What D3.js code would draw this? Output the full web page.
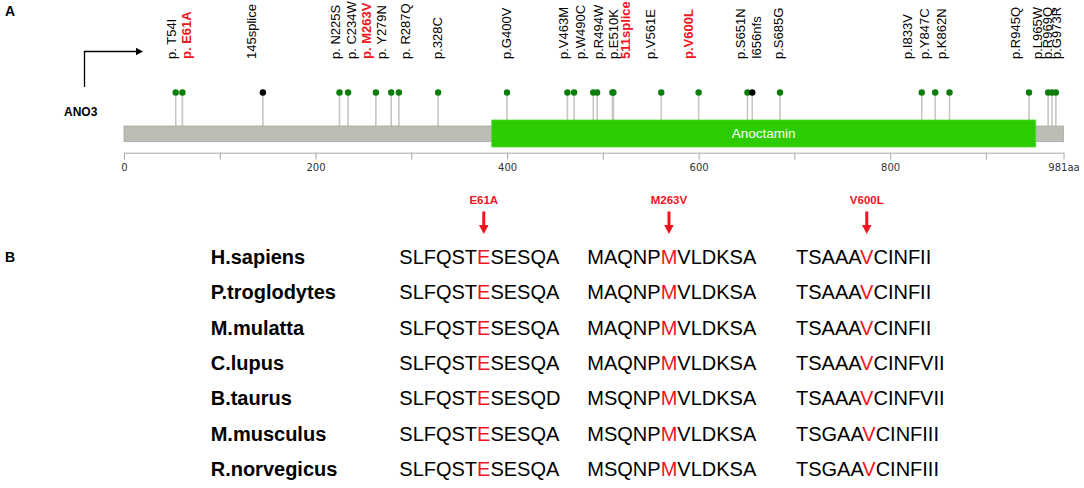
<!DOCTYPE html>
<html>
<head>
<meta charset="utf-8">
<script src="https://cdn.jsdelivr.net/npm/d3@7/dist/d3.min.js"></script>
<style>
  body { margin: 0; background: #fff; }
  svg { font-family: Arial, "Liberation Sans", sans-serif; }
</style>
</head>
<body>
<svg id="fig" width="1084" height="488"></svg>
<script>
// ---- panel A data ----
var proteinLength = 981;
var domainName = "Anoctamin";
var domainStart = 384, domainEnd = 952;

var mutPos = [54, 61, 145, 225, 234, 263, 279, 287, 328, 400, 463, 470, 490, 494, 510, 511,
              561, 600, 651, 656, 685, 833, 847, 862, 945, 965, 969, 973];
var mutLabel = ["p. T54I", "p. E61A", "145splice", "p. N225S", "p. C234W", "p. M263V", "p. Y279N",
                "p. R287Q", "p.328C", "p.G400V", "p.V463M", "", "p.W490C", "p.R494W", "p.E510K",
                "511splice", "p.V561E", "p.V600L", "p.S651N", "I656nfs", "p.S685G", "p.I833V",
                "p.Y847C", "p.K862N", "p.R945Q", "p.L965W", "p.R969Q", "p.G973R"];
var truncating = ["145splice", "I656nfs"];
var highlighted = ["p. E61A", "p. M263V", "511splice", "p.V600L"];
var axisTicks = [0, 100, 200, 300, 400, 500, 600, 700, 800, 900, 981];
var axisLabelled = [0, 200, 400, 600, 800, 981];

// ---- panel B data ----
var species = ["H.sapiens", "P.troglodytes", "M.mulatta", "C.lupus", "B.taurus", "M.musculus", "R.norvegicus"];
var seqE61 = ["SLFQSTESESQA", "SLFQSTESESQA", "SLFQSTESESQA", "SLFQSTESESQA", "SLFQSTESESQD", "SLFQSTESESQA", "SLFQSTESESQA"];
var seqM263 = ["MAQNPMVLDKSA", "MAQNPMVLDKSA", "MAQNPMVLDKSA", "MAQNPMVLDKSA", "MSQNPMVLDKSA", "MSQNPMVLDKSA", "MSQNPMVLDKSA"];
var seqV600 = ["TSAAAVCINFII", "TSAAAVCINFII", "TSAAAVCINFII", "TSAAAVCINFVII", "TSAAAVCINFVII", "TSGAAVCINFIII", "TSGAAVCINFIII"];
var siteNames = ["E61A", "M263V", "V600L"];
var siteIndex = [6, 5, 5];

var RED = "#f0141e";
var svg = d3.select("#fig");

// ---------------- Panel A ----------------
var x = d3.scaleLinear().domain([0, proteinLength]).range([124, 1063.5]);

// hand nudges (px) so the rotated labels sit as in the figure
var labelNudge = [-4, 5, -11, -3, 3.5, -9, -9, 7.5, 0, 0, -3, 0, -12, 1.5, 2, 13,
                  -10.5, -9.5, -6.5, 4.5, -1, -14, -10, -8, -13, -10.5, -4, 1.5];

svg.append("text").attr("x", 5).attr("y", 16)
  .attr("font-size", 14).attr("font-weight", "bold").text("A");

// ANO3 start arrow
svg.append("path").attr("d", "M84.5,87V51.5H137")
  .attr("fill", "none").attr("stroke", "#000").attr("stroke-width", 1.3);
svg.append("path").attr("d", "M143,51.5L136,47.8L136,55.2Z").attr("fill", "#000");
svg.append("text").attr("x", 64).attr("y", 116)
  .attr("font-size", 12).attr("font-weight", "bold").text("ANO3");

var headY = 92.5, barTop = 126, barBottom = 141.7, domTop = 120, domBottom = 147;

var muts = mutPos.map(function (p, i) { return {pos: p, label: mutLabel[i], nudge: labelNudge[i]}; });

// stems
svg.append("g").selectAll("line").data(muts).join("line")
  .attr("x1", function (d) { return x(d.pos); })
  .attr("x2", function (d) { return x(d.pos); })
  .attr("y1", headY)
  .attr("y2", function (d) { return (d.pos >= domainStart && d.pos <= domainEnd) ? domTop : barTop; })
  .attr("stroke", "#c6c6c2").attr("stroke-width", 1.6);

// protein backbone and domain
svg.append("rect")
  .attr("x", x(0)).attr("y", barTop)
  .attr("width", x(proteinLength) - x(0)).attr("height", barBottom - barTop)
  .attr("fill", "#bcbdb5").attr("stroke", "#a9aaa3").attr("stroke-width", 0.8);
svg.append("rect")
  .attr("x", x(domainStart)).attr("y", domTop)
  .attr("width", x(domainEnd) - x(domainStart)).attr("height", domBottom - domTop)
  .attr("fill", "#2dcc00").attr("stroke", "#4fd62a").attr("stroke-width", 0.8);
svg.append("text")
  .attr("x", (x(domainStart) + x(domainEnd)) / 2).attr("y", 138)
  .attr("text-anchor", "middle").attr("fill", "#fff").attr("font-size", 13.5)
  .text(domainName);

// heads
svg.append("g").selectAll("circle").data(muts).join("circle")
  .attr("cx", function (d) { return x(d.pos); })
  .attr("cy", headY).attr("r", 3.2)
  .attr("fill", function (d) { return truncating.indexOf(d.label) >= 0 ? "#000" : "#0a7d0a"; });

// rotated mutation labels
svg.append("g").selectAll("text").data(muts.filter(function (d) { return d.label; })).join("text")
  .attr("transform", function (d) { return "translate(" + (x(d.pos) + d.nudge + 4) + ",59) rotate(-90)"; })
  .attr("font-size", 13)
  .attr("font-weight", function (d) { return highlighted.indexOf(d.label) >= 0 ? "bold" : "normal"; })
  .attr("fill", function (d) { return highlighted.indexOf(d.label) >= 0 ? RED : "#000"; })
  .text(function (d) { return d.label; });

// position axis
var axis = d3.axisBottom(x)
  .tickValues(axisTicks)
  .tickSize(7).tickSizeOuter(0).tickPadding(4)
  .tickFormat(function (d) {
    if (axisLabelled.indexOf(d) < 0) return "";
    return d === proteinLength ? d + "aa" : d;
  });
var ag = svg.append("g").attr("transform", "translate(0,152.7)").call(axis);
ag.select(".domain").attr("stroke", "#aaa");
ag.selectAll(".tick line").attr("stroke", "#aaa");
ag.selectAll(".tick text").attr("fill", "#333").attr("font-size", 10)
  .attr("font-family", "'DejaVu Sans', sans-serif");

// ---------------- Panel B ----------------
svg.append("text").attr("x", 5).attr("y", 261.7)
  .attr("font-size", 14).attr("font-weight", "bold").text("B");

var y = d3.scalePoint().domain(species).range([264, 476]);
var colX = [399.3, 587.3, 796];
var columns = [seqE61, seqM263, seqV600];

svg.append("g").selectAll("text").data(species).join("text")
  .attr("x", 210.7).attr("y", function (d) { return y(d); })
  .attr("font-size", 20).attr("font-weight", "bold")
  .text(function (d) { return d; });

columns.forEach(function (col, c) {
  var rows = svg.append("g").selectAll("text").data(col).join("text")
    .attr("x", colX[c]).attr("y", function (d, i) { return y(species[i]); })
    .attr("font-size", 20);
  rows.each(function (s) {
    var t = d3.select(this), k = siteIndex[c];
    t.append("tspan").text(s.slice(0, k));
    t.append("tspan").attr("fill", RED).text(s.charAt(k));
    t.append("tspan").text(s.slice(k + 1));
  });

  // arrow above the conserved residue of the first row
  var ext = rows.node().getExtentOfChar(siteIndex[c]);
  var cx = ext.x + ext.width / 2;
  svg.append("text").attr("x", cx).attr("y", 204)
    .attr("text-anchor", "middle").attr("font-size", 11.5).attr("font-weight", "bold")
    .attr("fill", RED).text(siteNames[c]);
  svg.append("rect").attr("x", cx - 1.5).attr("y", 211.5).attr("width", 3).attr("height", 14)
    .attr("fill", RED);
  svg.append("path")
    .attr("d", "M" + (cx - 4.8) + ",225L" + (cx + 4.8) + ",225L" + cx + ",234Z")
    .attr("fill", RED);
});
</script>
</body>
</html>
